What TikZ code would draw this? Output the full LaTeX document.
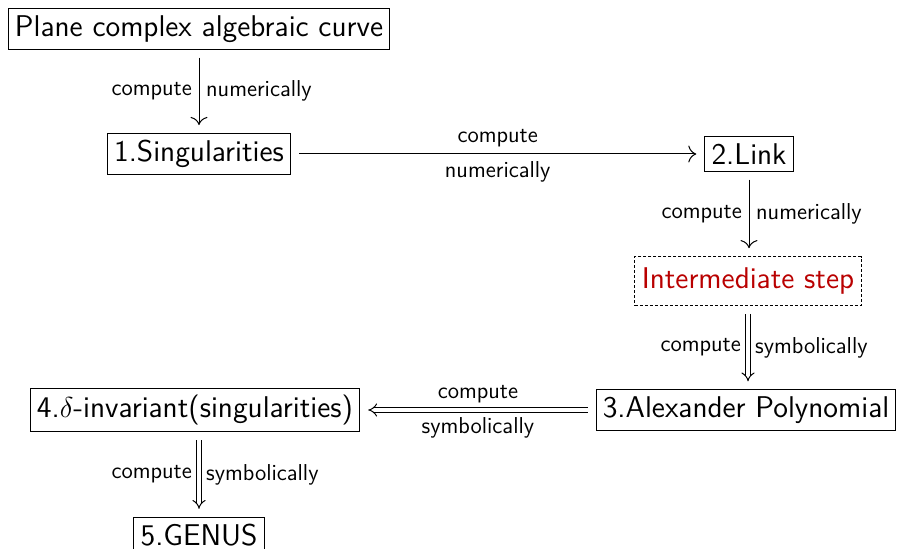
\documentclass[tikz,border=0pt]{standalone}
\usetikzlibrary{arrows.meta}
\definecolor{alertred}{RGB}{185,0,0}
\tikzset{
  box/.style={draw,line width=0.5pt,font=\sffamily\fontsize{15}{18}\selectfont},
  lbl/.style={font=\sffamily\fontsize{11.5}{14}\selectfont},
  num/.style={-{To[scale=1.5]},line width=0.5pt,shorten >=4pt,shorten <=4pt},
  sym/.style={double,line width=0.5pt,double distance=1.8pt,-{Implies[scale=1.2]},shorten >=4pt,shorten <=4pt},
}
\begin{document}
\begin{tikzpicture}[x=0.5pt,y=-0.5pt]
\useasboundingbox (0,0) rectangle (898,549);
\node[box] (curve) at (199,29) {Plane complex algebraic curve};
\node[box] (sing) at (199,154) {1.Singularities};
\node[box] (link) at (749,154) {2.Link};
\node[box,dash pattern=on 1.5pt off 1pt,text=alertred,inner xsep=3.5pt,inner ysep=5.5pt] (inter) at (748,281) {Intermediate step};
\node[box] (alex) at (746,410) {3.Alexander Polynomial};
\node[box] (delta) at (195,410) {4.$\delta$-invariant(singularities)};
\node[box] (genus) at (199,535) {5.GENUS};
\draw[num] (curve) -- (sing) node[lbl,midway,left] {compute} node[lbl,midway,right] {numerically};
\draw[num] (sing) -- (link) node[lbl,midway,above] {compute} node[lbl,midway,below] {numerically};
\draw[num] (link.south) -- (link.south |- inter.north) node[lbl,midway,left] {compute} node[lbl,midway,right] {numerically};
\draw[sym] (inter.south) -- (inter.south |- alex.north) node[lbl,midway,left] {compute} node[lbl,midway,right] {symbolically};
\draw[sym] (alex) -- (delta) node[lbl,midway,above] {compute} node[lbl,midway,below] {symbolically};
\draw[sym] (genus.north |- delta.south) -- (genus.north) node[lbl,midway,left] {compute} node[lbl,midway,right] {symbolically};
\end{tikzpicture}
\end{document}
